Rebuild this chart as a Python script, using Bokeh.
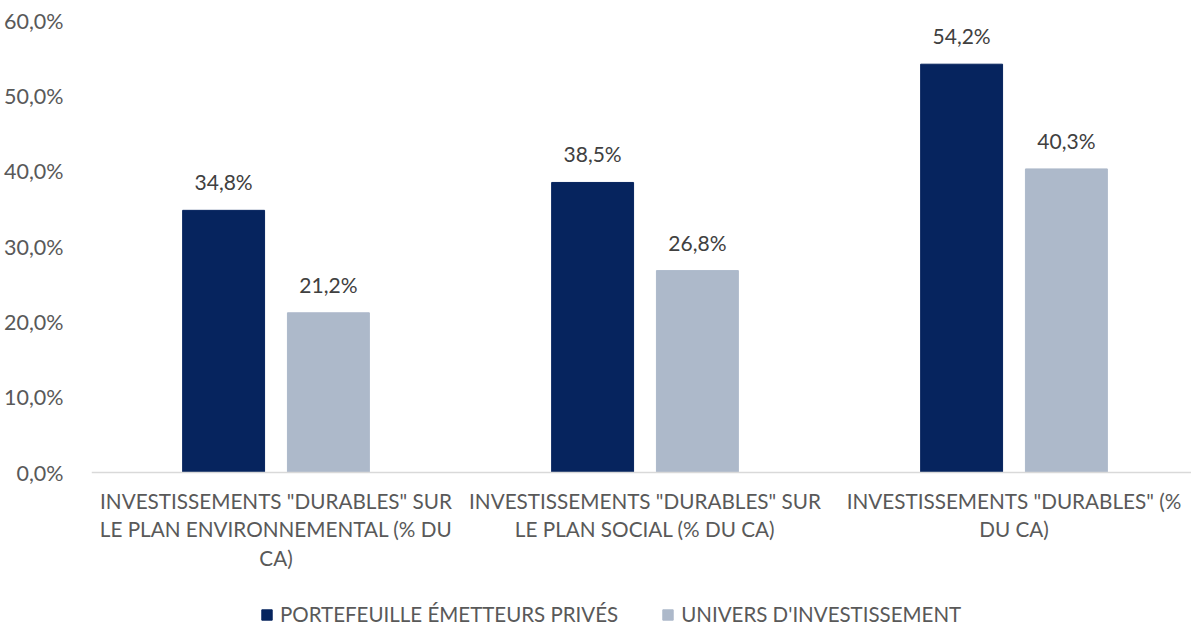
from bokeh.plotting import figure
from bokeh.models import Range1d, FixedTicker, CustomJSTickFormatter, Legend, LegendItem, ColumnDataSource, Span
from bokeh.transform import dodge
from bokeh.core.properties import value
from bokeh.embed import file_html
from bokeh.resources import INLINE

categories = [
    'INVESTISSEMENTS "DURABLES" SUR\nLE PLAN ENVIRONNEMENTAL (% DU\nCA)',
    'INVESTISSEMENTS "DURABLES" SUR\nLE PLAN SOCIAL (% DU CA)',
    'INVESTISSEMENTS "DURABLES" (%\nDU CA)',
]
series_names = ["PORTEFEUILLE ÉMETTEURS PRIVÉS", "UNIVERS D'INVESTISSEMENT"]
portefeuille = [34.8, 38.5, 54.2]
univers = [21.2, 26.8, 40.3]
y_ticks = [0, 10, 20, 30, 40, 50, 60]

FONT = "Lato"
DARK = "#06245E"
LIGHT = "#ADB9CA"
AXIS_TXT = "#595959"
LBL_TXT = "#404040"

xs = [i + 0.5 for i in range(len(categories))]
fmt = lambda v: f"{v:.1f}".replace(".", ",") + "%"
src = ColumnDataSource(dict(
    x=xs, p=portefeuille, u=univers, cat=categories, zero=[0] * len(categories),
    pl=[fmt(v) for v in portefeuille], ul=[fmt(v) for v in univers],
))

# frame extends below the value axis so that category labels and legend sit inside it
px_per_unit = 452 / 60.0
y_bottom = -(606 - 452) / px_per_unit

p = figure(frame_width=1100, frame_height=606, output_backend="svg", toolbar_location=None,
           x_range=Range1d(0, 2.981), y_range=Range1d(y_bottom, 60),
           min_border_left=84, min_border_right=0, min_border_top=20, min_border_bottom=0)
p.outline_line_color = None
p.xgrid.visible = False
p.ygrid.visible = False
p.xaxis.visible = False

off = 0.142
w = 0.222
r1 = p.vbar(x=dodge("x", -off, range=p.x_range), top="p", width=w, source=src, color=DARK)
r2 = p.vbar(x=dodge("x", off, range=p.x_range), top="u", width=w, source=src, color=LIGHT)

for col, lab in (("p", "pl"), ("u", "ul")):
    p.text(x=dodge("x", -off if col == "p" else off, range=p.x_range), y=col, text=lab, source=src,
           text_align="center", text_baseline="bottom", y_offset=-16,
           text_font=value(FONT), text_font_size="21px", text_color=LBL_TXT)

# baseline
p.add_layout(Span(location=0, dimension="width", line_color="#D9D9D9", line_width=1.5))

# category labels
p.text(x="x", y="zero", text="cat", source=src, text_align="center", text_baseline="top",
       y_offset=16, text_font=value(FONT), text_font_size="20.7px", text_color=AXIS_TXT,
       text_line_height=1.2)

# y axis
p.yaxis.ticker = FixedTicker(ticks=y_ticks)
p.yaxis.formatter = CustomJSTickFormatter(code="return tick.toFixed(1).replace('.', ',') + '%';")
p.yaxis.axis_line_color = None
p.yaxis.major_tick_line_color = None
p.yaxis.minor_tick_line_color = None
p.yaxis.major_label_standoff = 22
p.yaxis.major_label_text_font = FONT
p.yaxis.major_label_text_font_size = "21.5px"
p.yaxis.major_label_text_color = AXIS_TXT

legend = Legend(items=[LegendItem(label=series_names[0], renderers=[r1]),
                       LegendItem(label=series_names[1], renderers=[r2])],
                orientation="horizontal", location=(169, 0),
                glyph_width=13, glyph_height=13, spacing=43, label_standoff=7,
                label_text_font=FONT, label_text_font_size="20.5px", label_text_color=AXIS_TXT,
                border_line_color=None, background_fill_alpha=0, padding=0, margin=0)
p.add_layout(legend, "center")

open("out.html", "w").write(file_html(p, INLINE))
